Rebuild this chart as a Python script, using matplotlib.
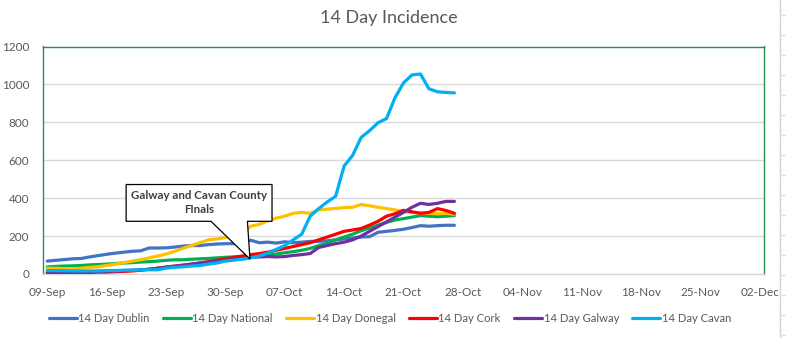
import numpy as np
import pandas as pd
import matplotlib
matplotlib.use("Agg")
import matplotlib.pyplot as plt
import matplotlib.dates as mdates
from matplotlib.patches import Polygon
from matplotlib.lines import Line2D

plt.rcParams['font.family'] = ['Lato', 'DejaVu Sans']

# Daily 14-day incidence per 100k, 09-Sep to 27-Oct
dates = pd.date_range("2020-09-09", "2020-10-27", freq="D")

dublin = [68, 72, 76, 80, 82, 90, 97, 104, 110, 115, 120, 122, 137, 137, 138, 142,
          147, 150, 150, 155, 158, 160, 160, 165, 178, 165, 168, 163, 170, 165, 168,
          172, 172, 175, 180, 185, 190, 195, 197, 220, 225, 230, 236, 245, 255, 252,
          255, 257, 257]
national = [37, 40, 42, 43, 45, 48, 50, 52, 55, 58, 60, 63, 65, 68, 72, 75, 75, 78,
            80, 82, 85, 88, 90, 92, 95, 100, 102, 105, 112, 118, 125, 135, 150, 162,
            180, 195, 210, 228, 243, 258, 272, 285, 292, 300, 308, 305, 302, 305, 308]
donegal = [30, 30, 28, 28, 30, 35, 38, 45, 52, 60, 68, 75, 85, 95, 105, 120, 135, 150,
           165, 180, 185, 192, 205, 215, 252, 262, 280, 295, 305, 320, 325, 320, 340,
           342, 346, 350, 352, 367, 360, 352, 345, 338, 330, 325, 322, 320, 318, 320, 315]
cork = [5, 5, 5, 6, 7, 8, 10, 10, 12, 14, 16, 20, 25, 30, 37, 42, 47, 52, 58, 65, 73,
        80, 88, 95, 102, 108, 115, 125, 135, 145, 155, 165, 180, 195, 210, 225, 232,
        240, 258, 278, 305, 318, 336, 328, 320, 325, 345, 335, 320]
galway = [10, 10, 10, 10, 12, 12, 14, 15, 16, 18, 20, 22, 25, 30, 35, 40, 45, 52, 58,
          63, 68, 72, 78, 82, 88, 90, 92, 90, 92, 98, 102, 108, 140, 150, 160, 168, 180,
          200, 225, 250, 275, 300, 325, 352, 373, 367, 373, 383, 383]
cavan = [18, 18, 17, 16, 16, 16, 16, 18, 18, 20, 20, 22, 22, 22, 31, 35, 38, 42, 45,
         52, 58, 68, 73, 78, 85, 95, 110, 130, 150, 180, 210, 305, 345, 380, 410, 570,
         625, 720, 756, 798, 820, 930, 1008, 1050, 1055, 977, 961, 958, 955]

series_names = ["14 Day Dublin", "14 Day National", "14 Day Donegal",
                "14 Day Cork", "14 Day Galway", "14 Day Cavan"]
series_values = [dublin, national, donegal, cork, galway, cavan]
series_colors = ["#4472C4", "#00B050", "#FFC000", "#FF0000", "#7030A0", "#00B0F0"]

y_ticks = [0, 200, 400, 600, 800, 1000, 1200]
x_start, x_end = pd.Timestamp("2020-09-09"), pd.Timestamp("2020-12-02")

callout_text = "Galway and Cavan County\nFInals"

W, H = 786, 338
fig = plt.figure(figsize=(W / 100, H / 100), dpi=100)
ax = fig.add_axes([43 / W, 1 - 274 / H, (764 - 43) / W, (274 - 46.5) / H])

for name, vals, col in zip(series_names, series_values, series_colors):
    ax.plot(dates, vals, color=col, lw=2.3, label=name, solid_capstyle='round',
            solid_joinstyle='round', zorder=3)

half = pd.Timedelta(hours=12)
ax.set_xlim(x_start - half, x_end + half)
ax.set_ylim(0, 1200)
ax.set_yticks(y_ticks)
ax.set_xticks(pd.date_range(x_start, x_end, freq="7D"))
ax.xaxis.set_major_formatter(mdates.DateFormatter("%d-%b"))

ax.grid(axis='y', color='#d9d9d9', lw=1, zorder=0)
ax.tick_params(axis='both', length=0, labelsize=8.5, colors='#595959')
ax.tick_params(axis='y', pad=10)
ax.tick_params(axis='x', pad=9)

green = '#2b8f55'
for side in ('left', 'right', 'top'):
    ax.spines[side].set_color(green)
    ax.spines[side].set_linewidth(1.0)
ax.spines['bottom'].set_color('#d9d9d9')
ax.spines['bottom'].set_linewidth(1.0)

# Rectangular callout pointing at the county finals weekend
d0 = mdates.date2num(x_start)
bx0, bx1 = d0 + 9.3, d0 + 26.5
by0, by1 = 278, 472
wl, wr = d0 + 19.3, d0 + 23.6
tip = (d0 + 23.9, 79)
poly = Polygon([(bx0, by0), (wl, by0), tip, (wr, by0), (bx1, by0), (bx1, by1), (bx0, by1)],
               closed=True, facecolor='white', edgecolor='black', lw=0.9, zorder=5)
ax.add_patch(poly)
ax.text((bx0 + bx1) / 2, (by0 + by1) / 2, callout_text, ha='center', va='center',
        fontsize=8.3, fontweight='bold', color='#404040', linespacing=1.35, zorder=6)

fig.text(389 / W, 1 - 18 / H, "14 Day Incidence", ha='center', va='center',
         fontsize=13, color='#595959')

fig.legend(loc='center', bbox_to_anchor=(390 / W, 1 - 318 / H), ncol=6, frameon=False,
           fontsize=8.1, handlelength=2.45, handletextpad=0.15, columnspacing=1.2,
           labelcolor='#595959')

# Worksheet cell grid showing beside the chart
fig.add_artist(Line2D([780 / W, 780 / W], [0, 1], transform=fig.transFigure,
                      color='#d4d4d4', lw=1))
for yy in range(15, H, 20):
    fig.add_artist(Line2D([780 / W, 1], [1 - yy / H, 1 - yy / H],
                          transform=fig.transFigure, color='#e0e0e0', lw=1))

fig.savefig("out.png", dpi=100)
